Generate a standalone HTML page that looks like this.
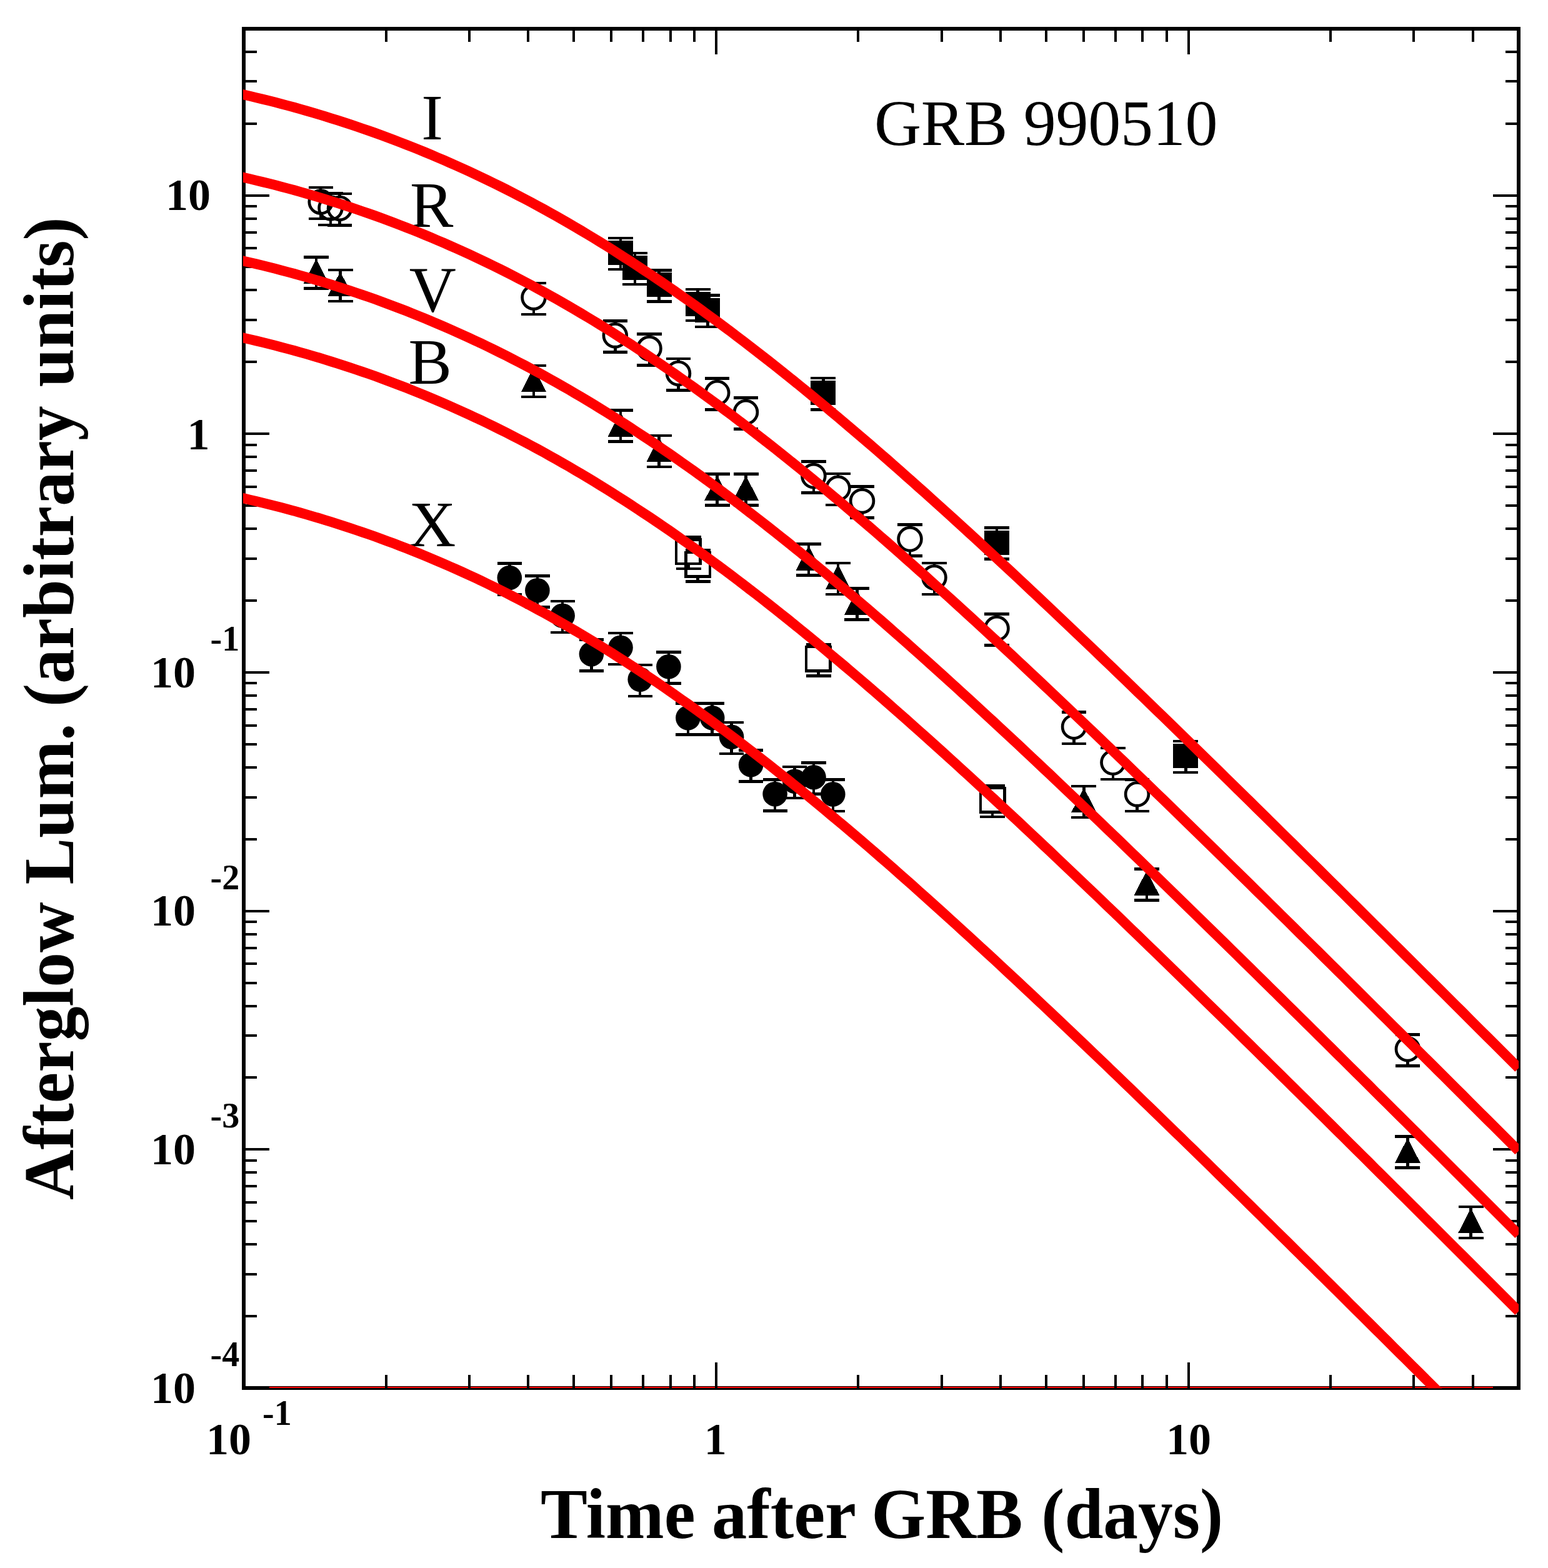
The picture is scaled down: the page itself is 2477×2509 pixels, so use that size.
<!DOCTYPE html>
<html lang="en"><head><meta charset="utf-8"><title>GRB 990510 afterglow light curves</title>
<style>html,body{margin:0;padding:0;background:#fff}body{width:2477px;height:2509px;overflow:hidden}svg{display:block}text{font-family:"Liberation Serif","Times New Roman",Times,serif;fill:#000}.b{font-weight:bold}</style></head><body>
<svg width="2477" height="2509" viewBox="0 0 2477 2509">
<rect width="2477" height="2509" fill="#fff"/>
<defs><clipPath id="c"><rect x="389" y="40" width="2041" height="2181.5"/></clipPath></defs>
<g shape-rendering="crispEdges">
<rect x="390" y="46" width="2040" height="2175" fill="none" stroke="#000" stroke-width="6"/>
<rect x="431" y="2219" width="1958" height="2.2" fill="#f00"/>
<path d="M617.5 2221.0v-21.0M617.5 46.0v21.0M750.6 2221.0v-21.0M750.6 46.0v21.0M845.1 2221.0v-21.0M845.1 46.0v21.0M918.3 2221.0v-21.0M918.3 46.0v21.0M978.2 2221.0v-21.0M978.2 46.0v21.0M1028.8 2221.0v-21.0M1028.8 46.0v21.0M1072.6 2221.0v-21.0M1072.6 46.0v21.0M1111.3 2221.0v-21.0M1111.3 46.0v21.0M1145.8 2221.0v-41.0M1145.8 46.0v41.0M1373.4 2221.0v-21.0M1373.4 46.0v21.0M1506.5 2221.0v-21.0M1506.5 46.0v21.0M1600.9 2221.0v-21.0M1600.9 46.0v21.0M1674.2 2221.0v-21.0M1674.2 46.0v21.0M1734.0 2221.0v-21.0M1734.0 46.0v21.0M1784.6 2221.0v-21.0M1784.6 46.0v21.0M1828.4 2221.0v-21.0M1828.4 46.0v21.0M1867.1 2221.0v-21.0M1867.1 46.0v21.0M1901.7 2221.0v-41.0M1901.7 46.0v41.0M2129.2 2221.0v-21.0M2129.2 46.0v21.0M2262.3 2221.0v-21.0M2262.3 46.0v21.0M2356.8 2221.0v-21.0M2356.8 46.0v21.0M390.0 2106.1h21.0M2430.0 2106.1h-21.0M390.0 2038.9h21.0M2430.0 2038.9h-21.0M390.0 1991.2h21.0M2430.0 1991.2h-21.0M390.0 1954.2h21.0M2430.0 1954.2h-21.0M390.0 1924.0h21.0M2430.0 1924.0h-21.0M390.0 1898.4h21.0M2430.0 1898.4h-21.0M390.0 1876.3h21.0M2430.0 1876.3h-21.0M390.0 1856.8h21.0M2430.0 1856.8h-21.0M390.0 1839.3h41.0M2430.0 1839.3h-41.0M390.0 1724.4h21.0M2430.0 1724.4h-21.0M390.0 1657.2h21.0M2430.0 1657.2h-21.0M390.0 1609.5h21.0M2430.0 1609.5h-21.0M390.0 1572.5h21.0M2430.0 1572.5h-21.0M390.0 1542.3h21.0M2430.0 1542.3h-21.0M390.0 1516.7h21.0M2430.0 1516.7h-21.0M390.0 1494.6h21.0M2430.0 1494.6h-21.0M390.0 1475.1h21.0M2430.0 1475.1h-21.0M390.0 1457.6h41.0M2430.0 1457.6h-41.0M390.0 1342.7h21.0M2430.0 1342.7h-21.0M390.0 1275.5h21.0M2430.0 1275.5h-21.0M390.0 1227.8h21.0M2430.0 1227.8h-21.0M390.0 1190.8h21.0M2430.0 1190.8h-21.0M390.0 1160.6h21.0M2430.0 1160.6h-21.0M390.0 1135.0h21.0M2430.0 1135.0h-21.0M390.0 1112.9h21.0M2430.0 1112.9h-21.0M390.0 1093.4h21.0M2430.0 1093.4h-21.0M390.0 1075.9h41.0M2430.0 1075.9h-41.0M390.0 961.0h21.0M2430.0 961.0h-21.0M390.0 893.8h21.0M2430.0 893.8h-21.0M390.0 846.1h21.0M2430.0 846.1h-21.0M390.0 809.1h21.0M2430.0 809.1h-21.0M390.0 778.9h21.0M2430.0 778.9h-21.0M390.0 753.3h21.0M2430.0 753.3h-21.0M390.0 731.2h21.0M2430.0 731.2h-21.0M390.0 711.7h21.0M2430.0 711.7h-21.0M390.0 694.2h41.0M2430.0 694.2h-41.0M390.0 579.3h21.0M2430.0 579.3h-21.0M390.0 512.1h21.0M2430.0 512.1h-21.0M390.0 464.4h21.0M2430.0 464.4h-21.0M390.0 427.4h21.0M2430.0 427.4h-21.0M390.0 397.2h21.0M2430.0 397.2h-21.0M390.0 371.6h21.0M2430.0 371.6h-21.0M390.0 349.5h21.0M2430.0 349.5h-21.0M390.0 330.0h21.0M2430.0 330.0h-21.0M390.0 312.5h41.0M2430.0 312.5h-41.0M390.0 197.6h21.0M2430.0 197.6h-21.0M390.0 130.4h21.0M2430.0 130.4h-21.0M390.0 82.7h21.0M2430.0 82.7h-21.0" stroke="#000" stroke-width="4" fill="none"/>
</g>
<text class="b" font-size="114" x="864.96" y="2460.7" textLength="247.60" lengthAdjust="spacingAndGlyphs">Time</text>
<text class="b" font-size="114" x="1138.90" y="2460.7" textLength="231.17" lengthAdjust="spacingAndGlyphs">after</text>
<text class="b" font-size="114" x="1394.30" y="2460.7" textLength="242.32" lengthAdjust="spacingAndGlyphs">GRB</text>
<text class="b" font-size="114" x="1666.33" y="2460.7" textLength="290.82" lengthAdjust="spacingAndGlyphs">(days)</text>
<g transform="translate(117 1919) rotate(-90)">
<text class="b" font-size="114" x="-1.00" y="0" textLength="476.51" lengthAdjust="spacingAndGlyphs">Afterglow</text>
<text class="b" font-size="114" x="503.45" y="0" textLength="258.20" lengthAdjust="spacingAndGlyphs">Lum.</text>
<text class="b" font-size="114" x="787.94" y="0" textLength="481.58" lengthAdjust="spacingAndGlyphs">(arbitrary</text>
<text class="b" font-size="114" x="1299.44" y="0" textLength="272.19" lengthAdjust="spacingAndGlyphs">units)</text>
</g>
<text class="b" font-size="72" x="337" y="336.3" text-anchor="end">10</text>
<text class="b" font-size="72" x="335.5" y="719" text-anchor="end">1</text>
<text class="b" font-size="72" x="313" y="1099.7" text-anchor="end">10</text>
<text class="b" font-size="56" x="336.5" y="1040.9">-1</text>
<text class="b" font-size="72" x="313" y="1481.4" text-anchor="end">10</text>
<text class="b" font-size="56" x="336.5" y="1422.6">-2</text>
<text class="b" font-size="72" x="313" y="1863.1" text-anchor="end">10</text>
<text class="b" font-size="56" x="336.5" y="1804.3">-3</text>
<text class="b" font-size="72" x="313" y="2244.8" text-anchor="end">10</text>
<text class="b" font-size="56" x="336.5" y="2186.0">-4</text>
<text class="b" font-size="72" x="402" y="2327.2" text-anchor="end">10</text>
<text class="b" font-size="56" x="420" y="2279.6">-1</text>
<text class="b" font-size="72" x="1144.8" y="2327.2" text-anchor="middle">1</text>
<text class="b" font-size="72" x="1902" y="2327.2" text-anchor="middle">10</text>
<text font-size="104" x="1399" y="232" textLength="549.5" lengthAdjust="spacing">GRB 990510</text>
<text font-size="104" x="691.5" y="222.7" text-anchor="middle">I</text>
<text font-size="104" x="690.6" y="363.1" text-anchor="middle">R</text>
<text font-size="104" x="692.3" y="498.1" text-anchor="middle">V</text>
<text font-size="104" x="688.2" y="613.6" text-anchor="middle">B</text>
<text font-size="104" x="691.9" y="873.6" text-anchor="middle">X</text>
<g shape-rendering="crispEdges" stroke="#000" fill="#000">
<path d="M973.0 381.1h40 M973.0 431.2h40 M993.0 381.1V404.3 M993.0 404.3V431.2" stroke-width="4.5" fill="none"/>
<rect x="973.0" y="385.0" width="40" height="39" stroke="none"/>
<path d="M996.0 405.1h40 M996.0 455.2h40 M1016.0 405.1V428.3 M1016.0 428.3V455.2" stroke-width="4.5" fill="none"/>
<rect x="996.0" y="409.0" width="40" height="39" stroke="none"/>
<path d="M1034.6 432.3h40 M1034.6 482.4h40 M1054.6 432.3V455.5 M1054.6 455.5V482.4" stroke-width="4.5" fill="none"/>
<rect x="1034.6" y="436.2" width="40" height="39" stroke="none"/>
<path d="M1096.5 462.9h40 M1096.5 513.0h40 M1116.5 462.9V486.1 M1116.5 486.1V513.0" stroke-width="4.5" fill="none"/>
<rect x="1096.5" y="466.8" width="40" height="39" stroke="none"/>
<path d="M1112.3 472.7h40 M1112.3 522.8h40 M1132.3 472.7V495.9 M1132.3 495.9V522.8" stroke-width="4.5" fill="none"/>
<rect x="1112.3" y="476.6" width="40" height="39" stroke="none"/>
<path d="M1297.3 605.2h40 M1297.3 655.3h40 M1317.3 605.2V628.4 M1317.3 628.4V655.3" stroke-width="4.5" fill="none"/>
<rect x="1297.3" y="609.1" width="40" height="39" stroke="none"/>
<path d="M1575.0 844.6h40 M1575.0 894.7h40 M1595.0 844.6V867.8 M1595.0 867.8V894.7" stroke-width="4.5" fill="none"/>
<rect x="1575.0" y="848.5" width="40" height="39" stroke="none"/>
<path d="M1877.3 1186.0h40 M1877.3 1236.1h40 M1897.3 1186.0V1209.2 M1897.3 1209.2V1236.1" stroke-width="4.5" fill="none"/>
<rect x="1877.3" y="1189.9" width="40" height="39" stroke="none"/>
<path d="M1081.5 859.7h40 M1081.5 909.8h40 M1101.5 859.7V863.9 M1101.5 901.9V909.8" stroke-width="4.5" fill="none"/>
<rect x="1082.2" y="863.6" width="38.5" height="38.5" fill="none" stroke-width="4.5"/>
<path d="M1096.6 880.2h40 M1096.6 930.3h40 M1116.6 880.2V884.4 M1116.6 922.4V930.3" stroke-width="4.5" fill="none"/>
<rect x="1097.3" y="884.2" width="38.5" height="38.5" fill="none" stroke-width="4.5"/>
<path d="M1289.5 1031.3h40 M1289.5 1081.4h40 M1309.5 1031.3V1035.5 M1309.5 1073.5V1081.4" stroke-width="4.5" fill="none"/>
<rect x="1290.2" y="1035.2" width="38.5" height="38.5" fill="none" stroke-width="4.5"/>
<path d="M1568.0 1256.8h40 M1568.0 1306.9h40 M1588.0 1256.8V1261.0 M1588.0 1299.0V1306.9" stroke-width="4.5" fill="none"/>
<rect x="1568.8" y="1260.8" width="38.5" height="38.5" fill="none" stroke-width="4.5"/>
<path d="M486.0 411.6h40 M486.0 461.7h40 M506.0 411.6V434.8 M506.0 434.8V461.7" stroke-width="4.5" fill="none"/>
<path d="M506.0 414.3L526.3 453.8L485.7 453.8Z" stroke="none"/>
<path d="M524.5 432.1h40 M524.5 482.2h40 M544.5 432.1V455.3 M544.5 455.3V482.2" stroke-width="4.5" fill="none"/>
<path d="M544.5 434.8L564.8 474.3L524.2 474.3Z" stroke="none"/>
<path d="M834.0 584.9h40 M834.0 635.0h40 M854.0 584.9V608.1 M854.0 608.1V635.0" stroke-width="4.5" fill="none"/>
<path d="M854.0 587.6L874.3 627.1L833.7 627.1Z" stroke="none"/>
<path d="M973.0 656.4h40 M973.0 706.5h40 M993.0 656.4V679.6 M993.0 679.6V706.5" stroke-width="4.5" fill="none"/>
<path d="M993.0 659.1L1013.3 698.6L972.7 698.6Z" stroke="none"/>
<path d="M1034.6 697.1h40 M1034.6 747.2h40 M1054.6 697.1V720.3 M1054.6 720.3V747.2" stroke-width="4.5" fill="none"/>
<path d="M1054.6 699.8L1074.9 739.3L1034.3 739.3Z" stroke="none"/>
<path d="M1127.7 758.3h40 M1127.7 808.4h40 M1147.7 758.3V781.5 M1147.7 781.5V808.4" stroke-width="4.5" fill="none"/>
<path d="M1147.7 761.0L1168.0 800.5L1127.4 800.5Z" stroke="none"/>
<path d="M1173.5 758.3h40 M1173.5 808.4h40 M1193.5 758.3V781.5 M1193.5 781.5V808.4" stroke-width="4.5" fill="none"/>
<path d="M1193.5 761.0L1213.8 800.5L1173.2 800.5Z" stroke="none"/>
<path d="M1274.0 870.3h40 M1274.0 920.4h40 M1294.0 870.3V893.5 M1294.0 893.5V920.4" stroke-width="4.5" fill="none"/>
<path d="M1294.0 873.0L1314.3 912.5L1273.7 912.5Z" stroke="none"/>
<path d="M1321.0 900.9h40 M1321.0 951.0h40 M1341.0 900.9V924.1 M1341.0 924.1V951.0" stroke-width="4.5" fill="none"/>
<path d="M1341.0 903.6L1361.3 943.1L1320.7 943.1Z" stroke="none"/>
<path d="M1351.4 941.3h40 M1351.4 991.4h40 M1371.4 941.3V964.5 M1371.4 964.5V991.4" stroke-width="4.5" fill="none"/>
<path d="M1371.4 944.0L1391.7 983.5L1351.1 983.5Z" stroke="none"/>
<path d="M1714.4 1257.9h40 M1714.4 1308.0h40 M1734.4 1257.9V1281.1 M1734.4 1281.1V1308.0" stroke-width="4.5" fill="none"/>
<path d="M1734.4 1260.6L1754.7 1300.1L1714.1 1300.1Z" stroke="none"/>
<path d="M1814.9 1390.4h40 M1814.9 1440.5h40 M1834.9 1390.4V1413.6 M1834.9 1413.6V1440.5" stroke-width="4.5" fill="none"/>
<path d="M1834.9 1393.1L1855.2 1432.6L1814.6 1432.6Z" stroke="none"/>
<path d="M2232.4 1818.4h40 M2232.4 1868.5h40 M2252.4 1818.4V1841.6 M2252.4 1841.6V1868.5" stroke-width="4.5" fill="none"/>
<path d="M2252.4 1821.1L2272.7 1860.6L2232.1 1860.6Z" stroke="none"/>
<path d="M2333.5 1930.8h40 M2333.5 1980.9h40 M2353.5 1930.8V1954.0 M2353.5 1954.0V1980.9" stroke-width="4.5" fill="none"/>
<path d="M2353.5 1933.5L2373.8 1973.0L2333.2 1973.0Z" stroke="none"/>
</g><g stroke="#000" fill="#000">
<path shape-rendering="crispEdges" d="M493.6 299.9h39.2 M493.6 350.0h39.2 M513.2 299.9V305.1 M513.2 341.1V350.0" stroke-width="4.5" fill="none"/>
<circle cx="513.2" cy="323.1" r="18.4" fill="none" stroke-width="4.7"/>
<path shape-rendering="crispEdges" d="M509.4 309.7h39.2 M509.4 359.8h39.2 M529.0 309.7V314.9 M529.0 350.9V359.8" stroke-width="4.5" fill="none"/>
<circle cx="529.0" cy="332.9" r="18.4" fill="none" stroke-width="4.7"/>
<path shape-rendering="crispEdges" d="M523.9 310.2h39.2 M523.9 360.3h39.2 M543.5 310.2V315.4 M543.5 351.4V360.3" stroke-width="4.5" fill="none"/>
<circle cx="543.5" cy="333.4" r="18.4" fill="none" stroke-width="4.7"/>
<path shape-rendering="crispEdges" d="M834.4 452.8h39.2 M834.4 502.9h39.2 M854.0 452.8V458.0 M854.0 494.0V502.9" stroke-width="4.5" fill="none"/>
<circle cx="854.0" cy="476.0" r="18.4" fill="none" stroke-width="4.7"/>
<path shape-rendering="crispEdges" d="M964.7 513.5h39.2 M964.7 563.6h39.2 M984.3 513.5V518.8 M984.3 554.8V563.6" stroke-width="4.5" fill="none"/>
<circle cx="984.3" cy="536.8" r="18.4" fill="none" stroke-width="4.7"/>
<path shape-rendering="crispEdges" d="M1019.4 534.3h39.2 M1019.4 584.4h39.2 M1039.0 534.3V539.5 M1039.0 575.5V584.4" stroke-width="4.5" fill="none"/>
<circle cx="1039.0" cy="557.5" r="18.4" fill="none" stroke-width="4.7"/>
<path shape-rendering="crispEdges" d="M1065.9 574.2h39.2 M1065.9 624.3h39.2 M1085.5 574.2V579.4 M1085.5 615.4V624.3" stroke-width="4.5" fill="none"/>
<circle cx="1085.5" cy="597.4" r="18.4" fill="none" stroke-width="4.7"/>
<path shape-rendering="crispEdges" d="M1128.1 605.4h39.2 M1128.1 655.5h39.2 M1147.7 605.4V610.6 M1147.7 646.6V655.5" stroke-width="4.5" fill="none"/>
<circle cx="1147.7" cy="628.6" r="18.4" fill="none" stroke-width="4.7"/>
<path shape-rendering="crispEdges" d="M1173.9 636.4h39.2 M1173.9 686.5h39.2 M1193.5 636.4V641.6 M1193.5 677.6V686.5" stroke-width="4.5" fill="none"/>
<circle cx="1193.5" cy="659.6" r="18.4" fill="none" stroke-width="4.7"/>
<path shape-rendering="crispEdges" d="M1282.3 738.4h39.2 M1282.3 788.5h39.2 M1301.9 738.4V743.6 M1301.9 779.6V788.5" stroke-width="4.5" fill="none"/>
<circle cx="1301.9" cy="761.6" r="18.4" fill="none" stroke-width="4.7"/>
<path shape-rendering="crispEdges" d="M1321.4 758.1h39.2 M1321.4 808.2h39.2 M1341.0 758.1V763.3 M1341.0 799.3V808.2" stroke-width="4.5" fill="none"/>
<circle cx="1341.0" cy="781.3" r="18.4" fill="none" stroke-width="4.7"/>
<path shape-rendering="crispEdges" d="M1359.9 778.5h39.2 M1359.9 828.6h39.2 M1379.5 778.5V783.7 M1379.5 819.7V828.6" stroke-width="4.5" fill="none"/>
<circle cx="1379.5" cy="801.7" r="18.4" fill="none" stroke-width="4.7"/>
<path shape-rendering="crispEdges" d="M1436.4 839.4h39.2 M1436.4 889.5h39.2 M1456.0 839.4V844.6 M1456.0 880.6V889.5" stroke-width="4.5" fill="none"/>
<circle cx="1456.0" cy="862.6" r="18.4" fill="none" stroke-width="4.7"/>
<path shape-rendering="crispEdges" d="M1475.4 900.9h39.2 M1475.4 951.0h39.2 M1495.0 900.9V906.1 M1495.0 942.1V951.0" stroke-width="4.5" fill="none"/>
<circle cx="1495.0" cy="924.1" r="18.4" fill="none" stroke-width="4.7"/>
<path shape-rendering="crispEdges" d="M1575.4 982.4h39.2 M1575.4 1032.5h39.2 M1595.0 982.4V987.6 M1595.0 1023.6V1032.5" stroke-width="4.5" fill="none"/>
<circle cx="1595.0" cy="1005.6" r="18.4" fill="none" stroke-width="4.7"/>
<path shape-rendering="crispEdges" d="M1698.9 1139.7h39.2 M1698.9 1189.8h39.2 M1718.5 1139.7V1144.9 M1718.5 1180.9V1189.8" stroke-width="4.5" fill="none"/>
<circle cx="1718.5" cy="1162.9" r="18.4" fill="none" stroke-width="4.7"/>
<path shape-rendering="crispEdges" d="M1761.3 1196.9h39.2 M1761.3 1247.0h39.2 M1780.9 1196.9V1202.1 M1780.9 1238.1V1247.0" stroke-width="4.5" fill="none"/>
<circle cx="1780.9" cy="1220.1" r="18.4" fill="none" stroke-width="4.7"/>
<path shape-rendering="crispEdges" d="M1799.9 1247.6h39.2 M1799.9 1297.8h39.2 M1819.5 1247.6V1252.8 M1819.5 1288.8V1297.8" stroke-width="4.5" fill="none"/>
<circle cx="1819.5" cy="1270.8" r="18.4" fill="none" stroke-width="4.7"/>
<path shape-rendering="crispEdges" d="M2232.8 1655.5h39.2 M2232.8 1705.6h39.2 M2252.4 1655.5V1660.7 M2252.4 1696.7V1705.6" stroke-width="4.5" fill="none"/>
<circle cx="2252.4" cy="1678.7" r="18.4" fill="none" stroke-width="4.7"/>
<path shape-rendering="crispEdges" d="M795.7 901.3h39.2 M795.7 951.4h39.2 M815.3 901.3V924.5 M815.3 924.5V951.4" stroke-width="4.5" fill="none"/>
<circle cx="815.3" cy="924.5" r="19.8" stroke="none"/>
<path shape-rendering="crispEdges" d="M840.3 921.5h39.2 M840.3 971.6h39.2 M859.9 921.5V944.7 M859.9 944.7V971.6" stroke-width="4.5" fill="none"/>
<circle cx="859.9" cy="944.7" r="19.8" stroke="none"/>
<path shape-rendering="crispEdges" d="M880.5 962.0h39.2 M880.5 1012.1h39.2 M900.1 962.0V985.2 M900.1 985.2V1012.1" stroke-width="4.5" fill="none"/>
<circle cx="900.1" cy="985.2" r="19.8" stroke="none"/>
<path shape-rendering="crispEdges" d="M926.8 1023.4h39.2 M926.8 1073.5h39.2 M946.4 1023.4V1046.6 M946.4 1046.6V1073.5" stroke-width="4.5" fill="none"/>
<circle cx="946.4" cy="1046.6" r="19.8" stroke="none"/>
<path shape-rendering="crispEdges" d="M973.4 1013.0h39.2 M973.4 1063.2h39.2 M993.0 1013.0V1036.2 M993.0 1036.2V1063.2" stroke-width="4.5" fill="none"/>
<circle cx="993.0" cy="1036.2" r="19.8" stroke="none"/>
<path shape-rendering="crispEdges" d="M1004.6 1064.0h39.2 M1004.6 1114.1h39.2 M1024.2 1064.0V1087.2 M1024.2 1087.2V1114.1" stroke-width="4.5" fill="none"/>
<circle cx="1024.2" cy="1087.2" r="19.8" stroke="none"/>
<path shape-rendering="crispEdges" d="M1050.3 1043.5h39.2 M1050.3 1093.6h39.2 M1069.9 1043.5V1066.7 M1069.9 1066.7V1093.6" stroke-width="4.5" fill="none"/>
<circle cx="1069.9" cy="1066.7" r="19.8" stroke="none"/>
<path shape-rendering="crispEdges" d="M1081.3 1125.5h39.2 M1081.3 1175.6h39.2 M1100.9 1125.5V1148.7 M1100.9 1148.7V1175.6" stroke-width="4.5" fill="none"/>
<circle cx="1100.9" cy="1148.7" r="19.8" stroke="none"/>
<path shape-rendering="crispEdges" d="M1120.1 1125.5h39.2 M1120.1 1175.6h39.2 M1139.7 1125.5V1148.7 M1139.7 1148.7V1175.6" stroke-width="4.5" fill="none"/>
<circle cx="1139.7" cy="1148.7" r="19.8" stroke="none"/>
<path shape-rendering="crispEdges" d="M1151.0 1156.0h39.2 M1151.0 1206.2h39.2 M1170.6 1156.0V1179.2 M1170.6 1179.2V1206.2" stroke-width="4.5" fill="none"/>
<circle cx="1170.6" cy="1179.2" r="19.8" stroke="none"/>
<path shape-rendering="crispEdges" d="M1182.0 1200.5h39.2 M1182.0 1250.7h39.2 M1201.6 1200.5V1223.8 M1201.6 1223.8V1250.7" stroke-width="4.5" fill="none"/>
<circle cx="1201.6" cy="1223.8" r="19.8" stroke="none"/>
<path shape-rendering="crispEdges" d="M1220.5 1247.4h39.2 M1220.5 1297.5h39.2 M1240.1 1247.4V1270.6 M1240.1 1270.6V1297.5" stroke-width="4.5" fill="none"/>
<circle cx="1240.1" cy="1270.6" r="19.8" stroke="none"/>
<path shape-rendering="crispEdges" d="M1252.1 1227.0h39.2 M1252.1 1277.1h39.2 M1271.7 1227.0V1250.2 M1271.7 1250.2V1277.1" stroke-width="4.5" fill="none"/>
<circle cx="1271.7" cy="1250.2" r="19.8" stroke="none"/>
<path shape-rendering="crispEdges" d="M1282.4 1220.5h39.2 M1282.4 1270.7h39.2 M1302.0 1220.5V1243.8 M1302.0 1243.8V1270.7" stroke-width="4.5" fill="none"/>
<circle cx="1302.0" cy="1243.8" r="19.8" stroke="none"/>
<path shape-rendering="crispEdges" d="M1313.2 1247.7h39.2 M1313.2 1297.8h39.2 M1332.8 1247.7V1270.9 M1332.8 1270.9V1297.8" stroke-width="4.5" fill="none"/>
<circle cx="1332.8" cy="1270.9" r="19.8" stroke="none"/>
</g>
<g clip-path="url(#c)" fill="none" stroke="#f00" stroke-width="16" stroke-linejoin="round">
<polyline points="378,148.6 390,151.5 400,153.8 410,156.2 420,158.6 430,161.1 440,163.6 450,166.2 460,168.9 470,171.5 480,174.4 490,177.2 500,180.2 510,183.1 520,186.2 530,189.3 540,192.4 550,195.7 560,198.9 570,202.3 580,205.7 590,209.1 600,212.6 610,216.3 620,220.0 630,223.7 640,227.6 650,231.4 660,235.4 670,239.4 680,243.5 690,247.7 700,252.0 710,256.2 720,260.6 730,265.0 740,269.5 750,274.1 760,278.7 770,283.4 780,288.2 790,293.1 800,298.0 810,303.0 820,308.1 830,313.3 840,318.5 850,323.8 860,329.2 870,334.6 880,340.2 890,345.8 900,351.5 910,357.2 920,363.1 930,369.0 940,375.0 950,381.0 960,387.1 970,393.3 980,399.6 990,406.0 1000,412.4 1010,418.8 1020,425.4 1030,432.0 1040,438.6 1050,445.3 1060,452.1 1070,459.0 1080,465.9 1090,473.0 1100,480.0 1110,487.1 1120,494.3 1130,501.6 1140,508.9 1150,516.3 1160,523.7 1170,531.2 1180,538.8 1190,546.4 1200,554.1 1210,561.8 1220,569.6 1230,577.4 1240,585.3 1250,593.3 1260,601.2 1270,609.3 1280,617.4 1290,625.5 1300,633.7 1310,641.9 1320,650.2 1330,658.6 1340,666.9 1350,675.3 1360,683.8 1370,692.3 1380,700.8 1390,709.4 1400,718.0 1410,726.7 1420,735.4 1430,744.2 1440,753.0 1450,761.9 1460,770.7 1470,779.7 1480,788.6 1490,797.6 1500,806.6 1510,815.6 1520,824.7 1530,833.7 1540,842.9 1550,852.0 1560,861.2 1570,870.4 1580,879.6 1590,888.8 1600,898.1 1610,907.4 1620,916.7 1630,926.0 1640,935.4 1650,944.8 1660,954.2 1670,963.6 1680,973.0 1690,982.5 1700,992.0 1710,1001.5 1720,1011.0 1730,1020.5 1740,1030.0 1750,1039.6 1760,1049.1 1770,1058.7 1780,1068.3 1790,1077.9 1800,1087.6 1810,1097.2 1820,1106.9 1830,1116.5 1840,1126.2 1850,1135.9 1860,1145.6 1870,1155.3 1880,1165.0 1890,1174.7 1900,1184.5 1910,1194.2 1920,1204.0 1930,1213.7 1940,1223.5 1950,1233.3 1960,1243.1 1970,1252.9 1980,1262.7 1990,1272.5 2000,1282.3 2010,1292.2 2020,1302.0 2030,1311.9 2040,1321.7 2050,1331.6 2060,1341.4 2070,1351.3 2080,1361.2 2090,1371.1 2100,1380.9 2110,1390.8 2120,1400.7 2130,1410.6 2140,1420.5 2150,1430.4 2160,1440.4 2170,1450.3 2180,1460.2 2190,1470.1 2200,1480.1 2210,1490.0 2220,1499.9 2230,1509.9 2240,1519.8 2250,1529.7 2260,1539.7 2270,1549.6 2280,1559.6 2290,1569.5 2300,1579.5 2310,1589.4 2320,1599.4 2330,1609.4 2340,1619.3 2350,1629.3 2360,1639.3 2370,1649.3 2380,1659.2 2390,1669.2 2400,1679.2 2410,1689.2 2420,1699.2 2430,1709.1"/>
<polyline points="378,281.1 390,284.0 400,286.3 410,288.7 420,291.1 430,293.6 440,296.1 450,298.7 460,301.4 470,304.0 480,306.9 490,309.7 500,312.7 510,315.6 520,318.7 530,321.8 540,324.9 550,328.2 560,331.4 570,334.8 580,338.2 590,341.6 600,345.1 610,348.8 620,352.5 630,356.2 640,360.1 650,363.9 660,367.9 670,371.9 680,376.0 690,380.2 700,384.5 710,388.7 720,393.1 730,397.5 740,402.0 750,406.6 760,411.2 770,415.9 780,420.7 790,425.6 800,430.5 810,435.5 820,440.6 830,445.8 840,451.0 850,456.3 860,461.7 870,467.1 880,472.7 890,478.3 900,484.0 910,489.7 920,495.6 930,501.5 940,507.5 950,513.5 960,519.6 970,525.8 980,532.1 990,538.5 1000,544.9 1010,551.3 1020,557.9 1030,564.5 1040,571.1 1050,577.8 1060,584.6 1070,591.5 1080,598.4 1090,605.5 1100,612.5 1110,619.6 1120,626.8 1130,634.1 1140,641.4 1150,648.8 1160,656.2 1170,663.7 1180,671.3 1190,678.9 1200,686.6 1210,694.3 1220,702.1 1230,709.9 1240,717.8 1250,725.8 1260,733.7 1270,741.8 1280,749.9 1290,758.0 1300,766.2 1310,774.4 1320,782.7 1330,791.1 1340,799.4 1350,807.8 1360,816.3 1370,824.8 1380,833.3 1390,841.9 1400,850.5 1410,859.2 1420,867.9 1430,876.7 1440,885.5 1450,894.4 1460,903.2 1470,912.2 1480,921.1 1490,930.1 1500,939.1 1510,948.1 1520,957.2 1530,966.2 1540,975.4 1550,984.5 1560,993.7 1570,1002.9 1580,1012.1 1590,1021.3 1600,1030.6 1610,1039.9 1620,1049.2 1630,1058.5 1640,1067.9 1650,1077.3 1660,1086.7 1670,1096.1 1680,1105.5 1690,1115.0 1700,1124.5 1710,1134.0 1720,1143.5 1730,1153.0 1740,1162.5 1750,1172.1 1760,1181.6 1770,1191.2 1780,1200.8 1790,1210.4 1800,1220.1 1810,1229.7 1820,1239.4 1830,1249.0 1840,1258.7 1850,1268.4 1860,1278.1 1870,1287.8 1880,1297.5 1890,1307.2 1900,1317.0 1910,1326.7 1920,1336.5 1930,1346.2 1940,1356.0 1950,1365.8 1960,1375.6 1970,1385.4 1980,1395.2 1990,1405.0 2000,1414.8 2010,1424.7 2020,1434.5 2030,1444.4 2040,1454.2 2050,1464.1 2060,1473.9 2070,1483.8 2080,1493.7 2090,1503.6 2100,1513.4 2110,1523.3 2120,1533.2 2130,1543.1 2140,1553.0 2150,1562.9 2160,1572.9 2170,1582.8 2180,1592.7 2190,1602.6 2200,1612.6 2210,1622.5 2220,1632.4 2230,1642.4 2240,1652.3 2250,1662.2 2260,1672.2 2270,1682.1 2280,1692.1 2290,1702.0 2300,1712.0 2310,1721.9 2320,1731.9 2330,1741.9 2340,1751.8 2350,1761.8 2360,1771.8 2370,1781.8 2380,1791.7 2390,1801.7 2400,1811.7 2410,1821.7 2420,1831.7 2430,1841.6"/>
<polyline points="378,414.8 390,417.7 400,420.0 410,422.4 420,424.8 430,427.3 440,429.8 450,432.4 460,435.1 470,437.7 480,440.6 490,443.4 500,446.4 510,449.3 520,452.4 530,455.5 540,458.6 550,461.9 560,465.1 570,468.5 580,471.9 590,475.3 600,478.8 610,482.5 620,486.2 630,489.9 640,493.8 650,497.6 660,501.6 670,505.6 680,509.7 690,513.9 700,518.2 710,522.4 720,526.8 730,531.2 740,535.7 750,540.3 760,544.9 770,549.6 780,554.4 790,559.3 800,564.2 810,569.2 820,574.3 830,579.5 840,584.7 850,590.0 860,595.4 870,600.8 880,606.4 890,612.0 900,617.7 910,623.4 920,629.3 930,635.2 940,641.2 950,647.2 960,653.3 970,659.5 980,665.8 990,672.2 1000,678.6 1010,685.0 1020,691.6 1030,698.2 1040,704.8 1050,711.5 1060,718.3 1070,725.2 1080,732.1 1090,739.2 1100,746.2 1110,753.3 1120,760.5 1130,767.8 1140,775.1 1150,782.5 1160,789.9 1170,797.4 1180,805.0 1190,812.6 1200,820.3 1210,828.0 1220,835.8 1230,843.6 1240,851.5 1250,859.5 1260,867.4 1270,875.5 1280,883.6 1290,891.7 1300,899.9 1310,908.1 1320,916.4 1330,924.8 1340,933.1 1350,941.5 1360,950.0 1370,958.5 1380,967.0 1390,975.6 1400,984.2 1410,992.9 1420,1001.6 1430,1010.4 1440,1019.2 1450,1028.1 1460,1036.9 1470,1045.9 1480,1054.8 1490,1063.8 1500,1072.8 1510,1081.8 1520,1090.9 1530,1099.9 1540,1109.1 1550,1118.2 1560,1127.4 1570,1136.6 1580,1145.8 1590,1155.0 1600,1164.3 1610,1173.6 1620,1182.9 1630,1192.2 1640,1201.6 1650,1211.0 1660,1220.4 1670,1229.8 1680,1239.2 1690,1248.7 1700,1258.2 1710,1267.7 1720,1277.2 1730,1286.7 1740,1296.2 1750,1305.8 1760,1315.3 1770,1324.9 1780,1334.5 1790,1344.1 1800,1353.8 1810,1363.4 1820,1373.1 1830,1382.7 1840,1392.4 1850,1402.1 1860,1411.8 1870,1421.5 1880,1431.2 1890,1440.9 1900,1450.7 1910,1460.4 1920,1470.2 1930,1479.9 1940,1489.7 1950,1499.5 1960,1509.3 1970,1519.1 1980,1528.9 1990,1538.7 2000,1548.5 2010,1558.4 2020,1568.2 2030,1578.1 2040,1587.9 2050,1597.8 2060,1607.6 2070,1617.5 2080,1627.4 2090,1637.3 2100,1647.1 2110,1657.0 2120,1666.9 2130,1676.8 2140,1686.7 2150,1696.6 2160,1706.6 2170,1716.5 2180,1726.4 2190,1736.3 2200,1746.3 2210,1756.2 2220,1766.1 2230,1776.1 2240,1786.0 2250,1795.9 2260,1805.9 2270,1815.8 2280,1825.8 2290,1835.7 2300,1845.7 2310,1855.6 2320,1865.6 2330,1875.6 2340,1885.5 2350,1895.5 2360,1905.5 2370,1915.5 2380,1925.4 2390,1935.4 2400,1945.4 2410,1955.4 2420,1965.4 2430,1975.3"/>
<polyline points="378,537.8 390,540.7 400,543.0 410,545.4 420,547.8 430,550.3 440,552.8 450,555.4 460,558.1 470,560.7 480,563.6 490,566.4 500,569.4 510,572.3 520,575.4 530,578.5 540,581.6 550,584.9 560,588.1 570,591.5 580,594.9 590,598.3 600,601.8 610,605.5 620,609.2 630,612.9 640,616.8 650,620.6 660,624.6 670,628.6 680,632.7 690,636.9 700,641.2 710,645.4 720,649.8 730,654.2 740,658.7 750,663.3 760,667.9 770,672.6 780,677.4 790,682.3 800,687.2 810,692.2 820,697.3 830,702.5 840,707.7 850,713.0 860,718.4 870,723.8 880,729.4 890,735.0 900,740.7 910,746.4 920,752.3 930,758.2 940,764.2 950,770.2 960,776.3 970,782.5 980,788.8 990,795.2 1000,801.6 1010,808.0 1020,814.6 1030,821.2 1040,827.8 1050,834.5 1060,841.3 1070,848.2 1080,855.1 1090,862.2 1100,869.2 1110,876.3 1120,883.5 1130,890.8 1140,898.1 1150,905.5 1160,912.9 1170,920.4 1180,928.0 1190,935.6 1200,943.3 1210,951.0 1220,958.8 1230,966.6 1240,974.5 1250,982.5 1260,990.4 1270,998.5 1280,1006.6 1290,1014.7 1300,1022.9 1310,1031.1 1320,1039.4 1330,1047.8 1340,1056.1 1350,1064.5 1360,1073.0 1370,1081.5 1380,1090.0 1390,1098.6 1400,1107.2 1410,1115.9 1420,1124.6 1430,1133.4 1440,1142.2 1450,1151.1 1460,1159.9 1470,1168.9 1480,1177.8 1490,1186.8 1500,1195.8 1510,1204.8 1520,1213.9 1530,1222.9 1540,1232.1 1550,1241.2 1560,1250.4 1570,1259.6 1580,1268.8 1590,1278.0 1600,1287.3 1610,1296.6 1620,1305.9 1630,1315.2 1640,1324.6 1650,1334.0 1660,1343.4 1670,1352.8 1680,1362.2 1690,1371.7 1700,1381.2 1710,1390.7 1720,1400.2 1730,1409.7 1740,1419.2 1750,1428.8 1760,1438.3 1770,1447.9 1780,1457.5 1790,1467.1 1800,1476.8 1810,1486.4 1820,1496.1 1830,1505.7 1840,1515.4 1850,1525.1 1860,1534.8 1870,1544.5 1880,1554.2 1890,1563.9 1900,1573.7 1910,1583.4 1920,1593.2 1930,1602.9 1940,1612.7 1950,1622.5 1960,1632.3 1970,1642.1 1980,1651.9 1990,1661.7 2000,1671.5 2010,1681.4 2020,1691.2 2030,1701.1 2040,1710.9 2050,1720.8 2060,1730.6 2070,1740.5 2080,1750.4 2090,1760.3 2100,1770.1 2110,1780.0 2120,1789.9 2130,1799.8 2140,1809.7 2150,1819.6 2160,1829.6 2170,1839.5 2180,1849.4 2190,1859.3 2200,1869.3 2210,1879.2 2220,1889.1 2230,1899.1 2240,1909.0 2250,1918.9 2260,1928.9 2270,1938.8 2280,1948.8 2290,1958.7 2300,1968.7 2310,1978.6 2320,1988.6 2330,1998.6 2340,2008.5 2350,2018.5 2360,2028.5 2370,2038.5 2380,2048.4 2390,2058.4 2400,2068.4 2410,2078.4 2420,2088.4 2430,2098.3"/>
<polyline points="378,794.5 390,797.4 400,799.7 410,802.1 420,804.5 430,807.0 440,809.5 450,812.1 460,814.8 470,817.4 480,820.3 490,823.1 500,826.1 510,829.0 520,832.1 530,835.2 540,838.3 550,841.6 560,844.8 570,848.2 580,851.6 590,855.0 600,858.5 610,862.2 620,865.9 630,869.6 640,873.5 650,877.3 660,881.3 670,885.3 680,889.4 690,893.6 700,897.9 710,902.1 720,906.5 730,910.9 740,915.4 750,920.0 760,924.6 770,929.3 780,934.1 790,939.0 800,943.9 810,948.9 820,954.0 830,959.2 840,964.4 850,969.7 860,975.1 870,980.5 880,986.1 890,991.7 900,997.4 910,1003.1 920,1009.0 930,1014.9 940,1020.9 950,1026.9 960,1033.0 970,1039.2 980,1045.5 990,1051.9 1000,1058.3 1010,1064.7 1020,1071.3 1030,1077.9 1040,1084.5 1050,1091.2 1060,1098.0 1070,1104.9 1080,1111.8 1090,1118.9 1100,1125.9 1110,1133.0 1120,1140.2 1130,1147.5 1140,1154.8 1150,1162.2 1160,1169.6 1170,1177.1 1180,1184.7 1190,1192.3 1200,1200.0 1210,1207.7 1220,1215.5 1230,1223.3 1240,1231.2 1250,1239.2 1260,1247.1 1270,1255.2 1280,1263.3 1290,1271.4 1300,1279.6 1310,1287.8 1320,1296.1 1330,1304.5 1340,1312.8 1350,1321.2 1360,1329.7 1370,1338.2 1380,1346.7 1390,1355.3 1400,1363.9 1410,1372.6 1420,1381.3 1430,1390.1 1440,1398.9 1450,1407.8 1460,1416.6 1470,1425.6 1480,1434.5 1490,1443.5 1500,1452.5 1510,1461.5 1520,1470.6 1530,1479.6 1540,1488.8 1550,1497.9 1560,1507.1 1570,1516.3 1580,1525.5 1590,1534.7 1600,1544.0 1610,1553.3 1620,1562.6 1630,1571.9 1640,1581.3 1650,1590.7 1660,1600.1 1670,1609.5 1680,1618.9 1690,1628.4 1700,1637.9 1710,1647.4 1720,1656.9 1730,1666.4 1740,1675.9 1750,1685.5 1760,1695.0 1770,1704.6 1780,1714.2 1790,1723.8 1800,1733.5 1810,1743.1 1820,1752.8 1830,1762.4 1840,1772.1 1850,1781.8 1860,1791.5 1870,1801.2 1880,1810.9 1890,1820.6 1900,1830.4 1910,1840.1 1920,1849.9 1930,1859.6 1940,1869.4 1950,1879.2 1960,1889.0 1970,1898.8 1980,1908.6 1990,1918.4 2000,1928.2 2010,1938.1 2020,1947.9 2030,1957.8 2040,1967.6 2050,1977.5 2060,1987.3 2070,1997.2 2080,2007.1 2090,2017.0 2100,2026.8 2110,2036.7 2120,2046.6 2130,2056.5 2140,2066.4 2150,2076.3 2160,2086.3 2170,2096.2 2180,2106.1 2190,2116.0 2200,2126.0 2210,2135.9 2220,2145.8 2230,2155.8 2240,2165.7 2250,2175.6 2260,2185.6 2270,2195.5 2280,2205.5 2290,2215.4 2300,2225.4 2310,2235.3 2320,2245.3 2330,2255.3"/>
</g>
</svg></body></html>
